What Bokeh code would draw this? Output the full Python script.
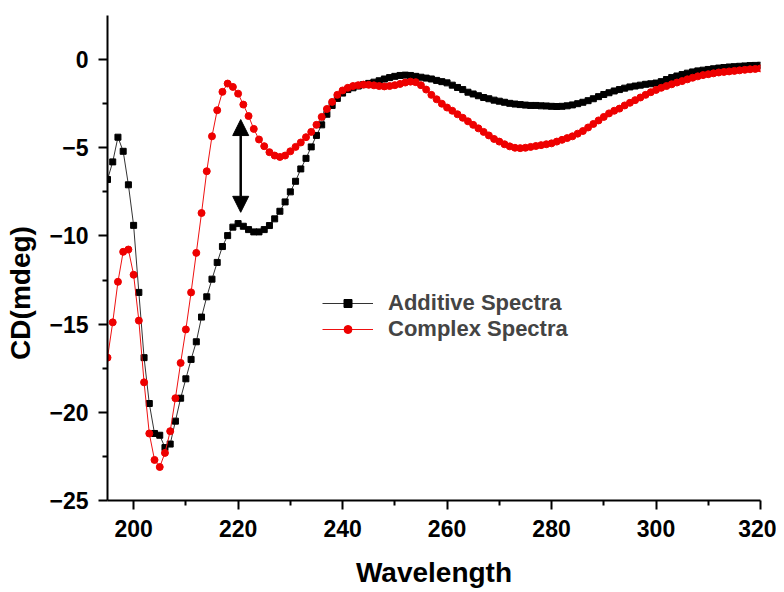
from bokeh.plotting import figure
from bokeh.models import Legend, LegendItem, Arrow, NormalHead, Range1d, FixedTicker
from bokeh.embed import file_html
from bokeh.resources import INLINE

wavelength = list(range(195, 321))

additive = [
    -6.8, -5.8, -4.4, -5.2, -7.1, -9.4, -13.2, -16.9, -19.5, -21.2,
    -21.3, -22.0, -21.8, -20.5, -19.2, -18.1, -17.0, -16.0, -14.6, -13.45,
    -12.45, -11.5, -10.6, -9.98, -9.5, -9.3, -9.45, -9.64, -9.77, -9.77,
    -9.64, -9.41, -9.03, -8.6, -8.07, -7.5, -6.9, -6.2, -5.6, -4.95,
    -4.3, -3.7, -3.1, -2.6, -2.2, -1.9, -1.7, -1.6, -1.5, -1.42,
    -1.35, -1.28, -1.2, -1.1, -1.02, -0.95, -0.9, -0.88, -0.9, -0.95,
    -1.0, -1.05, -1.1, -1.18, -1.25, -1.32, -1.45, -1.58, -1.7, -1.85,
    -1.95, -2.05, -2.15, -2.22, -2.3, -2.36, -2.42, -2.48, -2.52, -2.55,
    -2.58, -2.6, -2.6, -2.62, -2.63, -2.65, -2.66, -2.65, -2.62, -2.57,
    -2.5, -2.42, -2.33, -2.22, -2.1, -1.98, -1.88, -1.78, -1.7, -1.62,
    -1.55, -1.5, -1.45, -1.4, -1.37, -1.33, -1.25, -1.13, -1.02, -0.93,
    -0.85, -0.77, -0.7, -0.64, -0.6, -0.56, -0.52, -0.48, -0.45, -0.42,
    -0.4, -0.38, -0.36, -0.34, -0.33, -0.32,
]

complex_ = [
    -16.9, -14.9, -12.6, -10.9, -10.77, -12.2, -14.8, -18.3, -21.2, -22.7,
    -23.1, -22.3, -21.07, -19.2, -17.2, -15.3, -13.2, -10.96, -8.7, -6.33,
    -4.35, -2.87, -1.83, -1.36, -1.55, -1.93, -2.55, -3.2, -3.93, -4.53,
    -4.91, -5.25, -5.44, -5.52, -5.44, -5.2, -4.95, -4.7, -4.4, -4.1,
    -3.7, -3.25, -2.8, -2.4, -2.0, -1.75, -1.6, -1.5, -1.45, -1.42,
    -1.43, -1.46, -1.5, -1.52, -1.5, -1.45, -1.38, -1.3, -1.25, -1.28,
    -1.45, -1.7, -2.0, -2.25, -2.5, -2.72, -2.9, -3.1, -3.3, -3.5,
    -3.7, -3.9, -4.1, -4.3, -4.5, -4.65, -4.8, -4.92, -5.0, -5.02,
    -5.0, -4.95, -4.9, -4.85, -4.8, -4.75, -4.65, -4.55, -4.45, -4.35,
    -4.2, -4.05, -3.85, -3.65, -3.45, -3.25, -3.05, -2.9, -2.78, -2.6,
    -2.45, -2.3, -2.15, -2.0, -1.85, -1.72, -1.6, -1.5, -1.4, -1.3,
    -1.22, -1.12, -1.03, -0.95, -0.88, -0.83, -0.78, -0.73, -0.7, -0.67,
    -0.64, -0.61, -0.58, -0.55, -0.53, -0.5,
]

x_ticks = [200, 220, 240, 260, 280, 300, 320]
x_minor = [210, 230, 250, 270, 290, 310]
y_ticks = [0, -5, -10, -15, -20, -25]
y_minor = [-2.5, -7.5, -12.5, -17.5, -22.5]

series_names = ["Additive Spectra", "Complex Spectra"]
x_title = "Wavelength"
y_title = "CD(mdeg)"

arrow_x = 220.5
arrow_y_top = -3.4
arrow_y_bottom = -8.66

FONT = "Liberation Sans"

p = figure(width=776, height=590, output_backend="svg", toolbar_location=None,
           x_range=Range1d(195, 320), y_range=Range1d(-25, 2.5),
           min_border_left=107, min_border_right=16, min_border_top=15, min_border_bottom=89)

p.outline_line_color = None
p.xgrid.visible = False
p.ygrid.visible = False

l1 = p.line(wavelength, additive, line_color="#333333", line_width=1)
s1 = p.scatter(wavelength, additive, marker="square", size=6, fill_color="black", line_color="black")
l2 = p.line(wavelength, complex_, line_color="#ee1111", line_width=1)
s2 = p.scatter(wavelength, complex_, marker="circle", size=7, fill_color="#ee0000", line_color="#ee0000")

for ax in (p.xaxis[0], p.yaxis[0]):
    ax.axis_line_width = 2
    ax.major_tick_line_width = 2
    ax.minor_tick_line_width = 2
    ax.major_tick_out = 9
    ax.major_tick_in = 0
    ax.minor_tick_out = 5
    ax.minor_tick_in = 0
    ax.major_label_text_font = FONT
    ax.major_label_text_font_style = "bold"
    ax.major_label_text_font_size = "23px"
    ax.major_label_text_color = "black"
    ax.axis_label_text_font = FONT
    ax.axis_label_text_font_style = "bold"
    ax.axis_label_text_color = "black"

p.xaxis[0].ticker = FixedTicker(ticks=x_ticks, minor_ticks=x_minor)
p.yaxis[0].ticker = FixedTicker(ticks=y_ticks, minor_ticks=y_minor)
p.xaxis[0].axis_label = x_title
p.xaxis[0].axis_label_text_font_size = "28px"
p.xaxis[0].axis_label_standoff = 17
p.xaxis[0].major_label_standoff = 10
p.yaxis[0].major_label_standoff = 10
# trailing no-break spaces push the rotated label down, as in the original
p.yaxis[0].axis_label = y_title + "\u00a0" * 9
p.yaxis[0].axis_label_text_font_size = "28px"
p.yaxis[0].axis_label_standoff = 10

arrow = Arrow(x_start=arrow_x, y_start=arrow_y_bottom, x_end=arrow_x, y_end=arrow_y_top,
              line_width=2.5, line_color="black",
              end=NormalHead(size=16, fill_color="black", line_color="black"),
              start=NormalHead(size=16, fill_color="black", line_color="black"))
p.add_layout(arrow)

legend = Legend(items=[LegendItem(label=series_names[0], renderers=[l1, s1]),
                       LegendItem(label=series_names[1], renderers=[l2, s2])],
                location=(215, 158))
legend.border_line_color = None
legend.background_fill_alpha = 0
legend.label_text_font = FONT
legend.label_text_font_style = "bold"
legend.label_text_font_size = "22px"
legend.glyph_width = 51
legend.glyph_height = 20
legend.label_standoff = 15
legend.spacing = 0
legend.padding = 10
p.add_layout(legend)

open("out.html", "w").write(file_html(p, INLINE))
